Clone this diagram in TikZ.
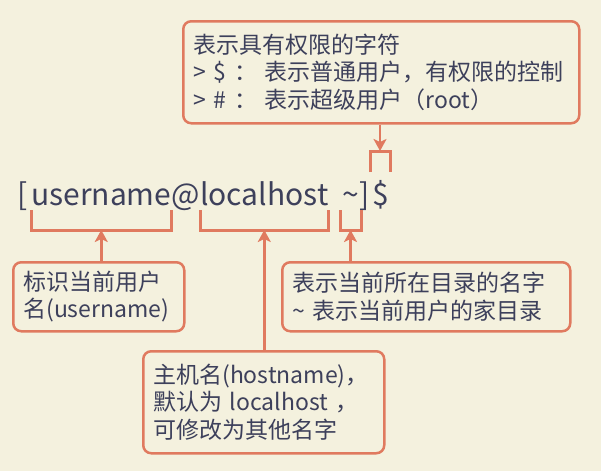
\documentclass[tikz,border=0pt]{standalone}
\usepackage{fontspec}
\setmainfont{Noto Sans CJK SC}
\usetikzlibrary{arrows.meta}
\definecolor{bg}{HTML}{F4F1DE}
\definecolor{acc}{HTML}{E07A5F}
\definecolor{ink}{HTML}{3D405B}
\tikzset{
  box/.style={draw=acc, line width=2.5pt, rounded corners=8pt, fill=bg, anchor=north west,
    inner xsep=10pt, inner ysep=0pt, align=left, text=ink, font=\fontsize{23}{27.5}\selectfont},
  mainpart/.style={inner sep=0pt, anchor=base west, text=ink, font=\fontsize{30}{34}\selectfont},
  brk/.style={draw=acc, line width=3pt},
  conn/.style={draw=acc, line width=2.5pt, -{Stealth[length=12pt,width=13pt,inset=3pt]}},
}
\begin{document}
\begin{tikzpicture}[x=1pt,y=-1pt]
\fill[bg] (0,0) rectangle (601,471);
\useasboundingbox (0,0) rectangle (601,471);

% main prompt line
\node[mainpart] (lb) at (17,205) {[};
\node[mainpart] (user) at (31,205) {username};
\node[mainpart] (atsign) at (user.base east) {@};
\node[mainpart] (host) at (200,205) {localhost};
\node[mainpart] (tilde) at (342,205) {\textasciitilde};
\node[mainpart] (rb) at (tilde.base east) {]};
\node[mainpart] (dollar) at (372,205) {\$};

% boxes
\node[box, text width=376pt, minimum height=102pt] (topbox) at (182,20)
  {\mbox{表示具有权限的字符}\\\mbox{> \$ ： 表示普通用户，有权限的控制}\\\mbox{> \# ： 表示超级用户（root）}};
\node[box, text width=151pt, minimum height=69pt] (lbox) at (12,261)
  {\mbox{标识当前用户}\\\mbox{名(username)}};
\node[box, text width=268pt, minimum height=69pt] (rbox) at (281,261)
  {\mbox{表示当前所在目录的名字}\\\mbox{\textasciitilde{} 表示当前用户的家目录}};
\node[box, text width=221pt, minimum height=102pt] (mbox) at (142,350)
  {\mbox{主机名(hostname)，}\\\mbox{默认为 localhost ，}\\\mbox{可修改为其他名字}};

% brackets
\draw[brk] (user.west |- 0,210) -- (user.west |- 0,230) coordinate (ub1) -- (user.east |- 0,230) coordinate (ub2) -- (user.east |- 0,210);
\draw[brk] (host.west |- 0,210) -- (host.west |- 0,230) coordinate (hb1) -- (host.east |- 0,230) coordinate (hb2) -- (host.east |- 0,210);
\draw[brk] ([xshift=-2pt]tilde.west |- 0,210) -- ([xshift=-2pt]tilde.west |- 0,230) coordinate (tb1) -- ([xshift=2pt]tilde.east |- 0,230) coordinate (tb2) -- ([xshift=2pt]tilde.east |- 0,210);
\draw[brk] ([xshift=-2pt]dollar.west |- 0,172) -- ([xshift=-2pt]dollar.west |- 0,151) coordinate (db1) -- ([xshift=1pt]dollar.east |- 0,151) coordinate (db2) -- ([xshift=1pt]dollar.east |- 0,172);

% connectors
\path (ub1) -- (ub2) coordinate[pos=0.5] (ubc);
\path (hb1) -- (hb2) coordinate[pos=0.5] (hbc);
\path (tb1) -- (tb2) coordinate[pos=0.5] (tbc);
\path (db1) -- (db2) coordinate[pos=0.5] (dbc);
\draw[conn] (topbox.south -| dbc) -- (dbc);
\draw[conn] (lbox.north -| ubc) -- (ubc);
\draw[conn] (mbox.north -| hbc) -- (hbc);
\draw[conn] (rbox.north -| tbc) -- (tbc);
\end{tikzpicture}
\end{document}
